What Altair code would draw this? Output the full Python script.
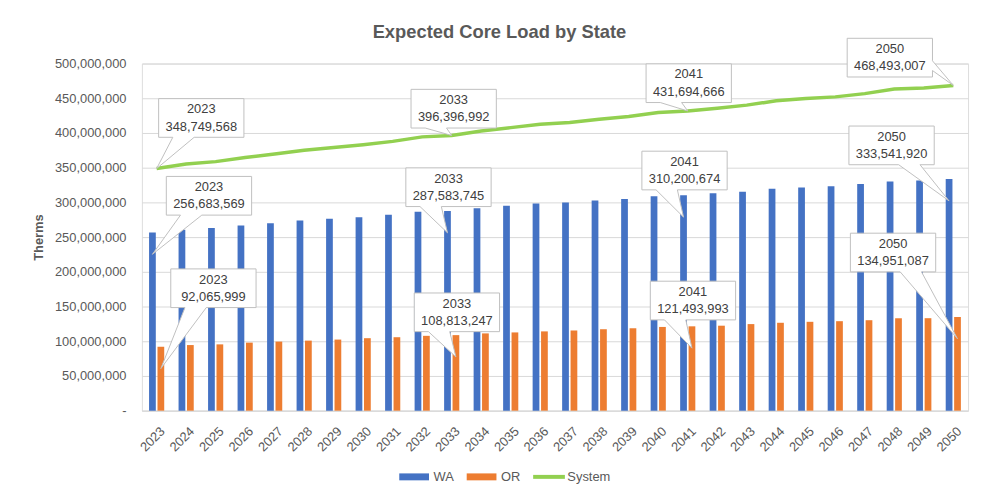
import altair as alt
import pandas as pd

# ---------------- data ----------------
years = ["2023", "2024", "2025", "2026", "2027", "2028", "2029", "2030", "2031", "2032",
         "2033", "2034", "2035", "2036", "2037", "2038", "2039", "2040", "2041", "2042",
         "2043", "2044", "2045", "2046", "2047", "2048", "2049", "2050"]

wa = [256683569, 260700000, 263200000, 266600000, 270100000, 274100000, 276600000,
      278600000, 282100000, 286600000, 287583745, 291500000, 295000000, 298500000,
      299700000, 302600000, 305000000, 308800000, 310200674, 313100000, 315400000,
      319700000, 321600000, 323100000, 326400000, 330200000, 331600000, 333541920]

orr = [92065999, 94500000, 95500000, 98000000, 99500000, 100900000, 102400000,
       104400000, 105800000, 107800000, 108813247, 111300000, 112700000, 114200000,
       115500000, 117300000, 118700000, 120600000, 121493993, 122400000, 124700000,
       126600000, 128000000, 128900000, 130300000, 133100000, 133200000, 134951087]

system = [348749568, 355200000, 358700000, 364600000, 369600000, 375000000, 379000000,
          383000000, 387900000, 394400000, 396396992, 402800000, 407700000, 412700000,
          415200000, 419900000, 423700000, 429400000, 431694666, 435500000, 440100000,
          446300000, 449600000, 452000000, 456700000, 463300000, 464800000, 468493007]

series_names = ["WA", "OR", "System"]
series_colors = ["#4472C4", "#ED7D31", "#92D050"]

y_ticks = [0, 50000000, 100000000, 150000000, 200000000, 250000000,
           300000000, 350000000, 400000000, 450000000, 500000000]

# callouts: (series, year, box-centre offset x, box-centre offset y relative to the tip)
callouts = [
    ("System", "2023", 45, -51),
    ("WA", "2023", 57, -59),
    ("OR", "2023", 53, -81),
    ("System", "2033", 2, -27),
    ("WA", "2033", 1, -46),
    ("OR", "2033", 1, -45),
    ("System", "2041", 1, -28),
    ("WA", "2041", 1, -47),
    ("OR", "2041", 1, -48),
    ("System", "2050", -64, -28),
    ("WA", "2050", -58, -56),
    ("OR", "2050", -65, -87),
]

# ---------------- table ----------------
rows = []
for name, vals in zip(series_names, [wa, orr, system]):
    for yr, v in zip(years, vals):
        rows.append({"year": yr, "series": name, "value": v,
                     "label": f"{yr}\n{v:,}"})
df = pd.DataFrame(rows)

FONT = "Liberation Sans"
GRAY = "#595959"

color_scale = alt.Scale(domain=series_names, range=series_colors)

x_enc = alt.X("year:N", sort=years,
              scale=alt.Scale(paddingInner=0.486, paddingOuter=0.243),
              axis=alt.Axis(title=None, labelAngle=-45, labelAlign="right",
                            labelBaseline="top", labelPadding=14, labelOffset=2,
                            ticks=False, domain=True, domainColor="#D9D9D9",
                            domainWidth=1, grid=False, labelFont=FONT,
                            labelFontSize=13, labelColor=GRAY))
y_enc = alt.Y("value:Q", scale=alt.Scale(domain=[0, 500000000], nice=False),
              axis=alt.Axis(title="Therms", values=y_ticks,
                            labelExpr="datum.value == 0 ? '-\u00a0\u00a0' : format(datum.value, ',')",
                            ticks=False, domain=False, grid=True, gridColor="#D9D9D9",
                            gridWidth=1, labelPadding=16, labelFont=FONT,
                            labelFontSize=13, labelColor=GRAY,
                            titleFont=FONT, titleFontSize=13, titleFontWeight="bold",
                            titleColor=GRAY, titleAngle=-90, titleX=-104, titleY=175,
                            titleAlign="center", titleBaseline="middle"))
xoff_enc = alt.XOffset("series:N", sort=["WA", "OR"],
                       scale=alt.Scale(domain=["WA", "OR"], paddingInner=0.2,
                                       paddingOuter=0))

# legend layer (invisible points that carry the legend)
rect_sym = "M0,-3.5L30,-3.5L30,3.5L0,3.5Z"
line_sym = "M0,-2L32,-2L32,2L0,2Z"
legend_props = dict(title=None, orient="none", legendX=253, legendY=410,
                    direction="horizontal", symbolSize=4, symbolOpacity=1,
                    labelOffset=28, columnPadding=6, padding=0,
                    labelFont=FONT, labelFontSize=13,
                    labelColor=GRAY, symbolStrokeWidth=0)
legend_layer = alt.Chart(df).transform_filter("datum.year == '2023'").mark_point(
    filled=True, size=0, strokeWidth=0, opacity=1
).encode(
    x=x_enc, y=y_enc,
    color=alt.Color("series:N", scale=color_scale, legend=alt.Legend(**legend_props)),
    shape=alt.Shape("series:N", scale=alt.Scale(domain=series_names,
                                                range=[rect_sym, rect_sym, line_sym]),
                    legend=alt.Legend(**legend_props)),
)

bars = alt.Chart(df).transform_filter("datum.series != 'System'").mark_bar().encode(
    x=x_enc, xOffset=xoff_enc, y=y_enc,
    color=alt.Color("series:N", scale=color_scale),
)

line = alt.Chart(df).transform_filter("datum.series == 'System'").mark_line(
    strokeWidth=3.5
).encode(
    x=x_enc, y=y_enc,
    color=alt.Color("series:N", scale=color_scale),
)


def callout_path(tip_dy, ox, oy, w=86.0, h=39.0):
    tx, ty = 0.0, float(tip_dy)
    cx, cy = tx + ox, ty + oy
    L, R, T, B = cx - w / 2, cx + w / 2, cy - h / 2, cy + h / 2
    dx, dy = tx - cx, ty - cy
    dq = dx * h / w
    if abs(dy) - abs(dq) > 0:
        if dx > 0:
            x1, x2 = L + w * 7 / 12, L + w * 10 / 12
        else:
            x1, x2 = L + w * 2 / 12, L + w * 5 / 12
        if dy > 0:
            pts = [(L, T), (R, T), (R, B), (x2, B), (tx, ty), (x1, B), (L, B)]
        else:
            pts = [(L, T), (x1, T), (tx, ty), (x2, T), (R, T), (R, B), (L, B)]
    else:
        if dy > 0:
            y1, y2 = T + h * 7 / 12, T + h * 10 / 12
        else:
            y1, y2 = T + h * 2 / 12, T + h * 5 / 12
        if dx > 0:
            pts = [(L, T), (R, T), (R, y1), (tx, ty), (R, y2), (R, B), (L, B)]
        else:
            pts = [(L, T), (R, T), (R, B), (L, B), (L, y2), (tx, ty), (L, y1)]
    return "M" + "L".join(f"{px:.1f},{py:.1f}" for px, py in pts) + "Z"


LINE_H = 17.5
callout_layers = []
for ser, yr, ox, oy in callouts:
    tip_dy = 0 if ser == "System" else 22
    src = alt.Chart(df).transform_filter(
        f"datum.series == '{ser}' && datum.year == '{yr}'")
    enc = dict(x=x_enc, y=y_enc)
    if ser != "System":
        enc["xOffset"] = xoff_enc
    box = src.mark_point(shape=callout_path(tip_dy, ox, oy), size=4, filled=False,
                         fill="white", fillOpacity=1, stroke="#BFBFBF",
                         strokeWidth=1, opacity=1).encode(**enc)
    txt = src.mark_text(dx=ox, dy=tip_dy + oy - LINE_H / 2, lineBreak="\n",
                        lineHeight=LINE_H, align="center", baseline="middle",
                        font=FONT, fontSize=13, color="#404040").encode(
        text="label:N", **enc)
    callout_layers += [box, txt]

chart = alt.layer(legend_layer, bars, line, *callout_layers).properties(
    width=833, height=350,
    title=alt.TitleParams("Expected Core Load by State", font=FONT, fontSize=18.5,
                          fontWeight="bold", color=GRAY, anchor="middle",
                          frame="group", dx=-56, dy=11, offset=6),
    autosize=alt.AutoSizeParams(type="none"),
    padding={"left": 135, "top": 54, "right": 6, "bottom": 80},
).configure_view(stroke=None).configure(background="white")

chart.save("out.html", embed_options={"renderer": "svg", "actions": False})
